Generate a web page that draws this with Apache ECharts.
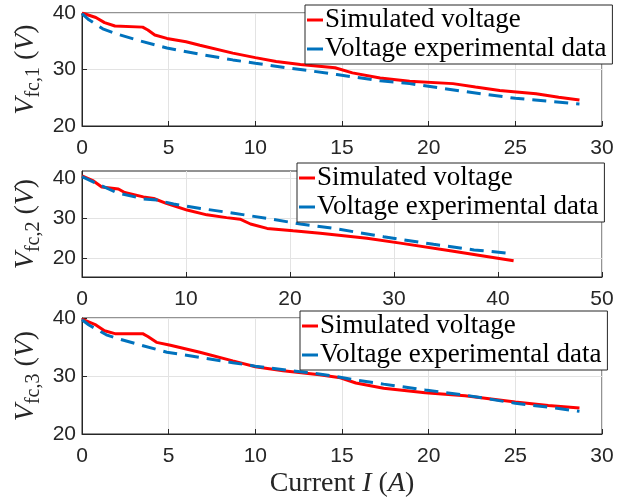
<!DOCTYPE html>
<html>
<head>
<meta charset="utf-8">
<script src="https://cdn.jsdelivr.net/npm/echarts@6/dist/echarts.min.js"></script>
<style>
  html, body { margin: 0; padding: 0; background: #fff; }
  #main { width: 630px; height: 500px; }
</style>
</head>
<body>
<div id="main"></div>
<script>
// panel 1
var cur1Sim = [0, 0.8, 1.3, 1.9, 3.5, 3.8, 4.2, 4.9, 6.0, 6.8, 8.7, 10, 11.2, 12.6, 14.6, 15.6, 17.2, 18.9, 21.4, 22.7, 24.1, 26.2, 27.5, 28.7]
var volt1Sim = [40, 39.2, 38.3, 37.7, 37.5, 37.0, 36.1, 35.5, 34.9, 34.3, 32.9, 32.1, 31.4, 30.9, 30.3, 29.4, 28.5, 27.9, 27.5, 26.9, 26.3, 25.7, 25.1, 24.6]
var cur1Exp = [0, 0.4, 1.2, 2.0, 3.3, 4.9, 6.8, 8.7, 10, 11.8, 13.1, 14.7, 17.2, 18.9, 22.1, 25.0, 28.7]
var volt1Exp = [39.9, 38.8, 37.2, 36.3, 35.1, 33.8, 32.7, 31.7, 31.1, 30.3, 29.8, 29.1, 28.0, 27.5, 26.1, 24.9, 23.9]
// panel 2
var cur2Sim = [0, 1.1, 1.9, 3.5, 4.1, 5.9, 6.9, 8.1, 10.1, 12.0, 13.9, 15.2, 16.2, 17.8, 20.3, 22.9, 27.4, 30.6, 35.4, 41.5]
var volt2Sim = [40.6, 39.3, 37.8, 37.3, 36.4, 35.3, 34.9, 33.7, 32.0, 30.8, 30.1, 29.7, 28.5, 27.4, 26.8, 26.2, 24.9, 23.7, 21.8, 19.3]
var cur2Exp = [0, 1.7, 3.3, 5.9, 7.2, 8.8, 11.4, 14.6, 17.8, 21.0, 24.2, 29.0, 33.8, 37.7, 40.9]
var volt2Exp = [40.4, 38.3, 36.4, 34.8, 34.5, 33.5, 32.4, 31.2, 29.9, 28.5, 27.4, 25.3, 23.4, 22.0, 21.2]
// panel 3
var cur3Sim = [0, 0.8, 1.3, 1.9, 3.5, 3.8, 4.3, 5.1, 6.8, 8.7, 10, 11.6, 13.7, 14.9, 15.8, 17.4, 19.8, 22.1, 25.0, 26.9, 28.7]
var volt3Sim = [39.8, 38.8, 37.8, 37.3, 37.3, 36.8, 35.8, 35.3, 34.1, 32.6, 31.6, 30.9, 30.2, 29.7, 28.8, 27.9, 27.1, 26.6, 25.5, 24.9, 24.5]
var cur3Exp = [0, 0.4, 1.4, 2.0, 3.3, 4.9, 6.8, 8.7, 10, 11.8, 13.3, 14.5, 15.8, 17.4, 19.8, 22.1, 25.0, 27.5, 28.7]
var volt3Exp = [39.7, 38.8, 37.1, 36.5, 35.4, 34.1, 33.2, 32.3, 31.7, 31.0, 30.5, 30.0, 29.3, 28.6, 27.6, 26.7, 25.3, 24.4, 23.9]

var yTicks = [20, 30, 40]
var names = ['Simulated voltage', 'Voltage experimental data']

function pairs(xs, ys) {
    var out = []
    for (var i = 0; i < xs.length; i++) out.push([xs[i], ys[i]])
    return out
}

var axisColor = '#262626'
var tickFont = { color: axisColor, fontSize: 21, fontFamily: 'Liberation Sans' }

function xAxis(idx, max, interval, withName) {
    var ax = {
        type: 'value', gridIndex: idx, min: 0, max: max, interval: interval,
        axisLine: { lineStyle: { color: axisColor, width: 1 } },
        axisTick: { inside: true, length: 5, lineStyle: { color: axisColor } },
        axisLabel: Object.assign({ margin: 12 }, tickFont),
        splitLine: { show: true, lineStyle: { color: '#e3e3e3', width: 1 } }
    }
    if (withName) {
        ax.name = '{t|Current }{i|I}{t| (}{i|A}{t|)}'
        ax.nameLocation = 'middle'
        ax.nameGap = 36
        ax.nameTextStyle = {
            rich: {
                t: { fontFamily: 'Liberation Serif', fontSize: 28, color: axisColor },
                i: { fontFamily: 'Liberation Serif', fontStyle: 'italic', fontSize: 28, color: axisColor }
            }
        }
    }
    return ax
}

function yAxis(idx, min, max, num) {
    return {
        type: 'value', gridIndex: idx, min: min, max: max,
        axisLine: { show: true, lineStyle: { color: axisColor, width: 1 } },
        axisTick: { show: true, inside: true, length: 5, lineStyle: { color: axisColor }, customValues: yTicks },
        axisLabel: Object.assign({ margin: 6, customValues: yTicks }, tickFont),
        splitLine: { show: true, lineStyle: { color: '#e3e3e3', width: 1 } },
        name: '{v|V}{s|fc,' + num + '}{t| (}{v|V}{t|)}',
        nameLocation: 'middle',
        nameRotate: 90,
        nameGap: 38,
        nameMoveOverlap: false,
        nameTextStyle: {
            rich: {
                v: { fontFamily: 'Liberation Serif', fontStyle: 'italic', fontSize: 28, color: axisColor },
                s: { fontFamily: 'Liberation Serif', fontSize: 20, color: axisColor, verticalAlign: 'bottom', padding: [16, 0, 0, 0] },
                t: { fontFamily: 'Liberation Serif', fontSize: 28, color: axisColor }
            }
        }
    }
}

function legend(left, top) {
    return {
        left: left, top: top, orient: 'vertical',
        data: names,
        icon: 'rect', itemWidth: 16, itemHeight: 3, itemGap: 1,
        padding: [1, 6, 1, 2],
        backgroundColor: '#fff', borderColor: axisColor, borderWidth: 1,
        textStyle: { fontFamily: 'Liberation Serif', fontSize: 27, color: '#000', lineHeight: 28, padding: [0, 0, 0, -3] }
    }
}

function simLine(idx, data) {
    return {
        name: names[0], type: 'line', xAxisIndex: idx, yAxisIndex: idx,
        data: data, showSymbol: false, color: '#FF0000',
        lineStyle: { color: '#FF0000', width: 3 }, animation: false
    }
}
function expLine(idx, data) {
    return {
        name: names[1], type: 'line', xAxisIndex: idx, yAxisIndex: idx,
        data: data, showSymbol: false, color: '#0072BD',
        lineStyle: { color: '#0072BD', width: 3, type: [14, 8] }, animation: false
    }
}

var chart = echarts.init(document.getElementById('main'))
var option = {
    backgroundColor: '#fff',
    animation: false,
    grid: [
        { left: 82, width: 520, top: 13, height: 113, show: true, borderColor: axisColor, borderWidth: 1 },
        { left: 82, width: 520, top: 171, height: 106, show: true, borderColor: axisColor, borderWidth: 1 },
        { left: 82, width: 520, top: 318, height: 116, show: true, borderColor: axisColor, borderWidth: 1 }
    ],
    xAxis: [xAxis(0, 30, 5, false), xAxis(1, 50, 10, false), xAxis(2, 30, 5, true)],
    yAxis: [yAxis(0, 20, 40, 1), yAxis(1, 15.2, 41.8, 2), yAxis(2, 20, 40, 3)],
    legend: [legend(305, 5), legend(297, 163), legend(300, 311)],
    series: [
        simLine(0, pairs(cur1Sim, volt1Sim)), expLine(0, pairs(cur1Exp, volt1Exp)),
        simLine(1, pairs(cur2Sim, volt2Sim)), expLine(1, pairs(cur2Exp, volt2Exp)),
        simLine(2, pairs(cur3Sim, volt3Sim)), expLine(2, pairs(cur3Exp, volt3Exp))
    ]
}
chart.setOption(option)
</script>
</body>
</html>
